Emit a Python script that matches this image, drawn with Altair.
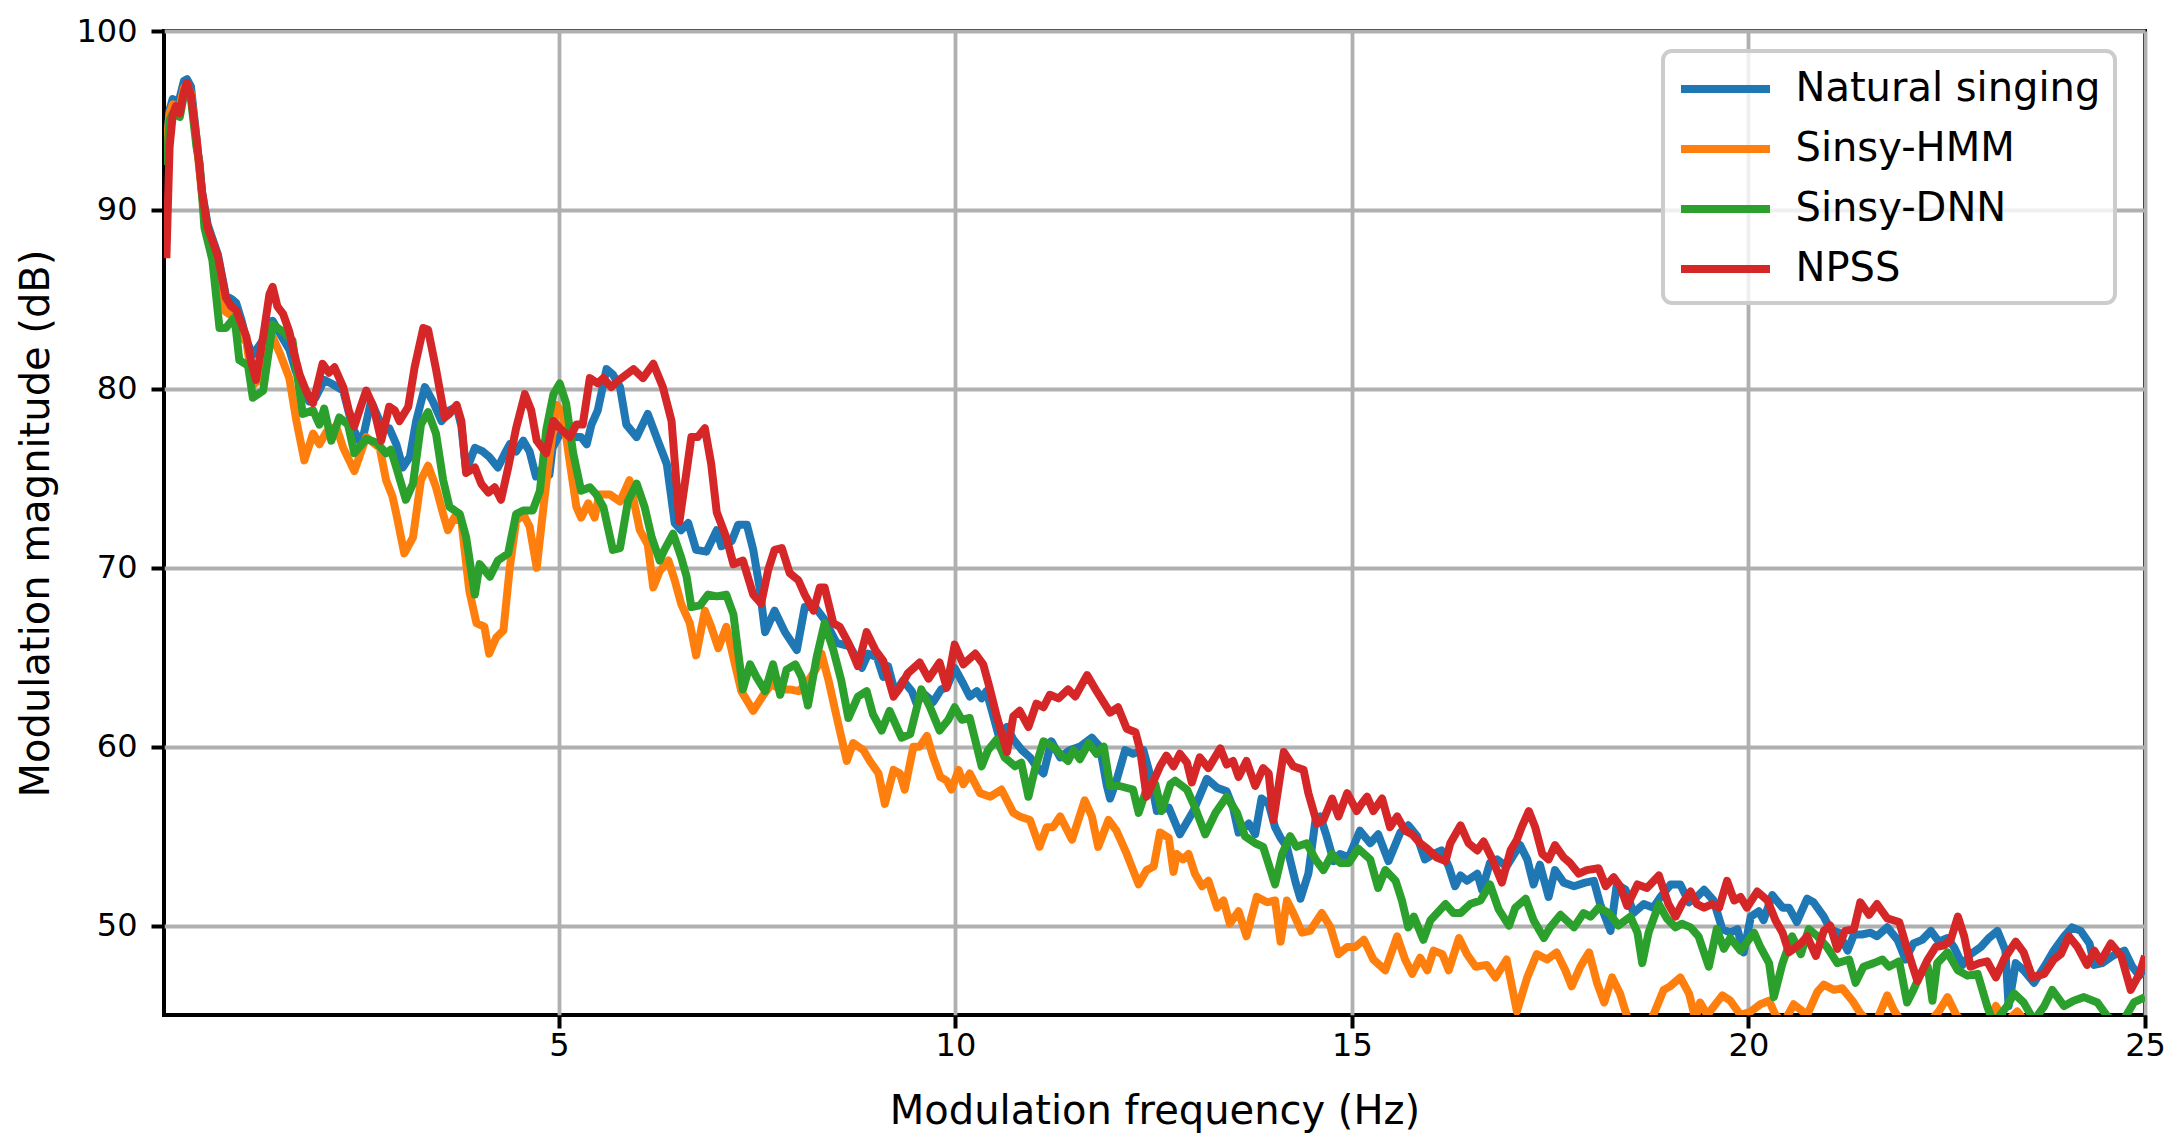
import altair as alt
import pandas as pd

series_names = ["Natural singing", "Sinsy-HMM", "Sinsy-DNN", "NPSS"]
series_colors = ["#1f77b4", "#ff7f0e", "#2ca02c", "#d62728"]
x_ticks = [5, 10, 15, 20, 25]
y_ticks = [50, 60, 70, 80, 90, 100]

# (frequency Hz, magnitude dB)
natural = [(0.05,93.5),(0.09,95.6),(0.13,96.2),(0.17,96.0),(0.22,96.3),(0.27,97.2),(0.31,97.3),(0.36,96.9),(0.43,94.0),(0.50,91.0),(0.57,89.2),(0.63,88.4),(0.70,87.5),(0.80,85.2),(0.88,85.0),(0.93,84.8),(1.00,83.8),(1.06,82.7),(1.14,81.9),(1.25,82.6),(1.39,83.8),(1.52,82.8),(1.60,82.2),(1.68,81.0),(1.85,79.3),(1.93,79.5),(2.04,80.5),(2.13,80.3),(2.28,79.9),(2.40,77.8),(2.51,76.9),(2.63,79.3),(2.78,77.8),(2.86,77.8),(2.95,76.9),(3.03,75.6),(3.12,76.2),(3.20,78.2),(3.31,80.1),(3.41,79.3),(3.52,78.2),(3.62,78.8),(3.71,79.0),(3.77,77.9),(3.83,75.4),(3.94,76.7),(4.04,76.5),(4.12,76.2),(4.23,75.6),(4.32,76.4),(4.38,76.9),(4.46,76.5),(4.55,77.1),(4.63,76.5),(4.71,75.1),(4.80,75.6),(4.88,75.2),(4.92,76.7),(4.99,77.3),(5.07,77.7),(5.18,77.3),(5.28,77.3),(5.35,76.9),(5.41,78.0),(5.49,78.8),(5.60,81.1),(5.68,80.8),(5.77,80.1),(5.85,78.0),(5.98,77.3),(6.12,78.6),(6.23,77.3),(6.36,75.8),(6.46,72.5),(6.54,72.1),(6.63,72.5),(6.73,71.0),(6.86,70.9),(6.99,72.1),(7.05,71.2),(7.18,71.5),(7.26,72.4),(7.37,72.4),(7.45,71.0),(7.53,68.9),(7.60,66.4),(7.72,67.6),(7.85,66.4),(8.00,65.4),(8.10,67.8),(8.23,67.8),(8.35,67.1),(8.50,65.8),(8.67,65.6),(8.82,64.4),(8.90,65.2),(9.01,65.0),(9.09,63.9),(9.15,64.5),(9.24,63.0),(9.34,63.7),(9.45,63.1),(9.51,62.4),(9.59,63.0),(9.72,62.5),(9.82,63.2),(9.89,63.3),(9.99,64.4),(10.10,63.5),(10.18,62.8),(10.27,63.1),(10.33,62.7),(10.39,63.1),(10.46,62.0),(10.54,60.7),(10.65,61.1),(10.73,60.4),(10.84,59.8),(10.94,59.4),(11.02,58.9),(11.11,58.5),(11.21,60.3),(11.32,59.4),(11.44,59.8),(11.57,60.0),(11.72,60.5),(11.82,60.0),(11.91,57.8),(11.95,57.1),(12.03,58.1),(12.14,59.8),(12.24,59.6),(12.37,59.8),(12.45,58.5),(12.54,56.4),(12.69,56.6),(12.83,55.1),(13.00,56.4),(13.17,58.2),(13.30,57.7),(13.42,57.5),(13.50,56.6),(13.57,55.2),(13.70,55.7),(13.78,55.1),(13.86,57.1),(13.95,56.8),(14.03,55.5),(14.10,54.9),(14.18,54.4),(14.29,52.4),(14.35,51.5),(14.45,52.9),(14.54,55.9),(14.60,56.1),(14.68,55.0),(14.77,53.6),(14.85,54.0),(14.96,53.8),(15.10,55.3),(15.23,54.6),(15.33,55.1),(15.46,53.6),(15.61,55.2),(15.71,55.6),(15.82,55.0),(15.92,53.7),(16.03,54.0),(16.13,54.2),(16.22,53.3),(16.30,52.2),(16.37,52.8),(16.45,52.5),(16.58,52.9),(16.64,52.0),(16.74,53.5),(16.83,53.7),(16.95,53.3),(17.06,54.1),(17.12,54.5),(17.21,53.7),(17.29,52.3),(17.37,53.4),(17.48,51.6),(17.56,53.1),(17.67,52.4),(17.80,52.2),(17.94,52.4),(18.05,52.5),(18.13,51.2),(18.26,49.7),(18.34,52.3),(18.45,52.0),(18.55,50.7),(18.68,51.2),(18.80,51.0),(18.89,51.6),(19.02,52.3),(19.14,52.3),(19.25,51.3),(19.35,51.6),(19.44,52.0),(19.56,51.4),(19.67,49.8),(19.77,49.6),(19.86,49.8),(19.94,48.5),(20.03,50.5),(20.13,50.8),(20.19,50.3),(20.30,51.7),(20.43,51.0),(20.51,51.0),(20.61,50.2),(20.74,51.5),(20.82,51.3),(20.95,50.5),(21.03,49.8),(21.14,49.6),(21.25,48.6),(21.33,49.5),(21.43,49.5),(21.54,49.6),(21.62,49.4),(21.75,49.9),(21.88,49.2),(21.98,48.1),(22.08,49.0),(22.19,49.2),(22.30,49.7),(22.40,49.1),(22.51,49.3),(22.59,48.8),(22.70,47.8),(22.80,48.4),(22.93,48.8),(23.03,49.3),(23.14,49.7),(23.24,48.6),(23.28,45.5),(23.37,47.9),(23.47,47.5),(23.60,46.8),(23.73,47.7),(23.85,48.6),(23.98,49.4),(24.08,49.9),(24.19,49.7),(24.30,49.0),(24.36,47.8),(24.46,47.9),(24.59,48.3),(24.74,48.6),(24.84,47.7),(24.93,47.2),(25.00,47.7)]

hmm = [(0.05,93.5),(0.09,95.4),(0.13,95.9),(0.17,95.8),(0.22,95.8),(0.27,96.8),(0.31,97.0),(0.36,96.5),(0.43,93.8),(0.50,90.8),(0.57,88.6),(0.63,87.6),(0.70,86.3),(0.80,84.3),(0.90,84.0),(0.98,83.0),(1.06,82.6),(1.14,80.2),(1.22,80.5),(1.39,82.9),(1.48,82.0),(1.60,80.6),(1.69,78.2),(1.79,76.0),(1.90,77.5),(1.98,76.9),(2.07,77.6),(2.19,77.9),(2.28,76.7),(2.42,75.4),(2.57,77.3),(2.74,76.7),(2.82,74.9),(2.90,74.0),(2.95,73.0),(3.05,70.8),(3.16,71.7),(3.26,74.9),(3.35,75.7),(3.45,74.5),(3.54,73.0),(3.60,72.1),(3.68,72.8),(3.77,72.6),(3.87,68.7),(3.96,66.9),(4.06,66.7),(4.12,65.2),(4.21,66.1),(4.30,66.5),(4.38,70.0),(4.46,72.6),(4.55,73.0),(4.63,72.3),(4.72,70.0),(4.80,73.2),(4.88,76.2),(4.97,79.1),(5.05,78.6),(5.14,75.8),(5.22,73.4),(5.28,72.8),(5.37,73.6),(5.45,72.8),(5.51,74.1),(5.64,74.1),(5.77,73.7),(5.89,74.9),(5.95,73.6),(6.02,72.1),(6.12,71.3),(6.19,68.9),(6.27,69.8),(6.38,70.4),(6.46,69.3),(6.54,68.0),(6.65,66.9),(6.73,65.1),(6.84,67.6),(6.92,66.7),(7.01,65.5),(7.11,66.7),(7.22,64.6),(7.30,63.1),(7.45,62.0),(7.58,62.9),(7.68,63.5),(7.79,63.2),(7.91,63.2),(8.02,63.1),(8.12,63.5),(8.25,64.4),(8.31,65.2),(8.40,63.7),(8.50,61.7),(8.63,59.2),(8.71,60.2),(8.84,59.8),(8.92,59.2),(9.03,58.5),(9.11,56.8),(9.22,58.7),(9.30,58.5),(9.36,57.6),(9.47,60.0),(9.55,60.0),(9.64,60.6),(9.72,59.4),(9.81,58.3),(9.89,58.1),(9.95,57.6),(10.04,58.7),(10.10,57.9),(10.18,58.5),(10.31,57.4),(10.44,57.2),(10.58,57.6),(10.73,56.3),(10.81,56.1),(10.94,55.9),(11.06,54.4),(11.15,55.5),(11.23,55.5),(11.32,56.1),(11.47,54.8),(11.63,57.0),(11.72,56.1),(11.80,54.4),(11.93,55.9),(12.03,55.3),(12.16,54.0),(12.31,52.3),(12.41,53.1),(12.50,53.3),(12.58,55.2),(12.69,54.9),(12.75,53.0),(12.79,54.0),(12.87,53.7),(12.94,54.0),(13.02,52.9),(13.11,52.2),(13.19,52.5),(13.30,51.0),(13.38,51.4),(13.46,50.1),(13.57,50.8),(13.67,49.4),(13.80,51.6),(13.93,51.3),(14.03,51.4),(14.10,49.1),(14.18,51.4),(14.26,50.7),(14.37,49.6),(14.47,49.7),(14.62,50.7),(14.73,49.9),(14.83,48.4),(14.94,48.8),(15.04,48.8),(15.15,49.2),(15.27,48.1),(15.42,47.5),(15.57,49.4),(15.67,48.1),(15.76,47.3),(15.86,48.2),(15.95,47.5),(16.03,48.6),(16.14,48.4),(16.22,47.5),(16.35,49.3),(16.45,48.4),(16.56,47.7),(16.70,47.8),(16.81,47.1),(16.95,48.1),(17.08,45.2),(17.21,47.1),(17.33,48.4),(17.46,48.1),(17.58,48.5),(17.69,47.5),(17.77,46.6),(17.88,47.7),(17.99,48.5),(18.09,46.8),(18.18,45.7),(18.28,47.1),(18.38,46.2),(18.47,44.9),(18.55,44.3),(18.68,44.2),(18.80,45.0),(18.93,46.4),(19.01,46.6),(19.14,47.1),(19.25,46.2),(19.33,44.8),(19.39,45.7),(19.48,45.0),(19.67,46.1),(19.77,45.8),(19.90,45.0),(20.03,45.2),(20.15,45.6),(20.26,45.8),(20.34,45.0),(20.45,44.6),(20.57,45.6),(20.74,45.0),(20.87,46.3),(20.95,46.7),(21.08,46.4),(21.18,46.5),(21.31,45.8),(21.41,45.1),(21.58,44.3),(21.75,46.1),(21.83,45.3),(21.96,44.4),(22.17,44.0),(22.40,45.2),(22.51,46.0),(22.62,45.0),(22.80,44.2),(23.00,44.5),(23.12,45.5),(23.25,44.6),(23.39,45.2),(23.55,44.3),(24.00,44.0),(24.50,43.8),(25.00,44.0)]

dnn = [(0.05,92.5),(0.09,95.0),(0.13,95.4),(0.17,95.3),(0.22,95.2),(0.27,96.4),(0.31,96.8),(0.36,96.2),(0.43,93.5),(0.47,92.6),(0.53,89.0),(0.63,87.2),(0.72,83.4),(0.80,83.4),(0.91,84.0),(0.97,81.6),(1.08,81.3),(1.14,79.5),(1.27,79.9),(1.39,83.6),(1.52,83.2),(1.64,82.7),(1.77,78.6),(1.90,78.8),(1.98,78.0),(2.04,78.9),(2.13,77.1),(2.23,78.4),(2.34,78.0),(2.42,76.4),(2.57,77.2),(2.70,77.0),(2.82,76.4),(2.88,76.6),(2.95,75.6),(3.07,73.8),(3.16,74.7),(3.26,78.0),(3.35,78.7),(3.45,77.5),(3.54,74.9),(3.62,73.4),(3.75,73.0),(3.83,71.7),(3.94,68.5),(4.00,70.2),(4.13,69.5),(4.23,70.4),(4.36,70.8),(4.46,73.0),(4.55,73.2),(4.67,73.2),(4.76,74.3),(4.84,77.7),(4.93,79.7),(5.01,80.3),(5.09,79.2),(5.18,76.4),(5.28,74.3),(5.39,74.5),(5.47,74.1),(5.56,73.4),(5.68,71.0),(5.77,71.1),(5.87,73.7),(5.98,74.7),(6.08,73.4),(6.17,71.7),(6.27,70.4),(6.33,71.0),(6.44,71.9),(6.54,70.6),(6.61,69.5),(6.67,67.8),(6.78,67.9),(6.88,68.5),(6.99,68.4),(7.11,68.5),(7.20,67.4),(7.32,63.2),(7.41,64.6),(7.49,63.9),(7.60,63.1),(7.70,64.6),(7.79,62.9),(7.87,64.3),(7.98,64.6),(8.06,63.9),(8.14,62.3),(8.25,65.0),(8.35,66.9),(8.46,65.4),(8.56,63.7),(8.65,61.6),(8.77,62.8),(8.88,63.1),(8.96,61.8),(9.07,60.9),(9.17,62.0),(9.32,60.5),(9.43,60.7),(9.57,63.2),(9.68,62.2),(9.80,60.9),(9.91,61.5),(9.99,62.2),(10.08,61.5),(10.18,61.6),(10.27,60.0),(10.33,58.9),(10.41,59.8),(10.52,60.4),(10.62,59.4),(10.75,58.9),(10.83,59.1),(10.92,57.2),(11.00,58.7),(11.11,60.3),(11.23,60.0),(11.34,59.5),(11.42,59.2),(11.49,59.8),(11.57,59.3),(11.68,60.2),(11.78,59.6),(11.87,60.0),(11.95,57.8),(12.07,57.8),(12.24,57.6),(12.31,56.3),(12.43,57.9),(12.52,57.9),(12.60,56.4),(12.71,57.9),(12.77,58.1),(12.92,57.6),(13.02,56.6),(13.15,55.1),(13.28,56.3),(13.42,57.2),(13.55,56.3),(13.65,55.0),(13.78,54.6),(13.88,54.4),(14.03,52.3),(14.12,54.0),(14.22,55.0),(14.30,54.4),(14.43,54.6),(14.54,53.7),(14.64,53.1),(14.75,54.0),(14.85,53.5),(14.96,53.5),(15.08,54.3),(15.23,53.7),(15.33,52.1),(15.42,53.1),(15.55,52.5),(15.63,51.4),(15.71,49.9),(15.78,50.5),(15.90,49.2),(15.99,50.3),(16.18,51.2),(16.28,50.7),(16.37,50.7),(16.49,51.2),(16.62,51.4),(16.74,52.3),(16.85,50.9),(16.98,50.0),(17.06,51.0),(17.19,51.5),(17.29,50.3),(17.42,49.3),(17.50,49.9),(17.63,50.6),(17.80,49.9),(17.92,50.7),(18.01,50.5),(18.11,51.0),(18.24,50.7),(18.36,50.0),(18.51,50.5),(18.60,49.6),(18.66,47.9),(18.74,49.6),(18.87,51.2),(18.97,50.4),(19.08,49.9),(19.16,50.1),(19.27,49.9),(19.37,49.4),(19.50,47.7),(19.60,49.8),(19.69,48.7),(19.77,49.3),(19.90,48.6),(20.07,49.6),(20.15,48.8),(20.26,47.9),(20.32,46.0),(20.43,47.9),(20.55,49.4),(20.66,48.4),(20.76,49.8),(20.87,49.4),(20.99,48.8),(21.12,47.9),(21.27,48.1),(21.35,46.8),(21.45,47.7),(21.58,47.9),(21.69,48.1),(21.77,47.7),(21.90,48.0),(22.00,45.7),(22.08,46.4),(22.17,47.3),(22.26,47.7),(22.32,45.8),(22.38,47.9),(22.51,48.5),(22.64,47.5),(22.76,47.2),(22.89,47.3),(23.01,45.5),(23.09,44.5),(23.26,45.5),(23.35,46.2),(23.47,45.7),(23.60,44.7),(23.73,45.5),(23.83,46.4),(23.98,45.5),(24.10,45.8),(24.23,46.0),(24.40,45.7),(24.53,44.9),(24.70,44.5),(24.86,45.7),(25.00,46.0)]

npss = [(0.05,87.3),(0.09,93.5),(0.13,95.3),(0.17,95.8),(0.22,95.4),(0.27,96.6),(0.31,97.1),(0.36,96.4),(0.43,94.0),(0.50,91.0),(0.57,89.0),(0.63,88.3),(0.70,87.4),(0.80,85.1),(0.87,84.6),(0.93,84.4),(1.00,83.6),(1.06,82.9),(1.12,81.5),(1.18,80.5),(1.28,83.2),(1.35,85.3),(1.39,85.7),(1.45,84.6),(1.52,84.2),(1.60,83.2),(1.66,82.0),(1.73,80.8),(1.82,79.8),(1.90,79.2),(1.96,80.3),(2.02,81.4),(2.10,80.9),(2.17,81.2),(2.28,80.1),(2.35,78.8),(2.42,77.9),(2.50,79.0),(2.57,79.9),(2.66,79.0),(2.76,77.1),(2.86,79.0),(2.93,78.8),(2.99,78.2),(3.10,79.0),(3.18,81.2),(3.29,83.4),(3.35,83.3),(3.45,81.1),(3.56,78.4),(3.62,78.6),(3.71,79.1),(3.77,78.2),(3.83,75.3),(3.94,75.6),(4.02,74.7),(4.11,74.2),(4.19,74.5),(4.27,73.8),(4.36,75.6),(4.46,77.8),(4.57,79.7),(4.65,78.8),(4.72,77.1),(4.84,76.4),(4.93,78.2),(5.01,77.8),(5.14,77.3),(5.22,78.0),(5.30,78.0),(5.39,80.6),(5.49,80.3),(5.56,80.6),(5.66,80.1),(5.76,80.5),(5.94,81.1),(6.06,80.6),(6.19,81.4),(6.31,80.1),(6.42,78.2),(6.52,72.6),(6.61,75.4),(6.67,77.3),(6.75,77.3),(6.84,77.8),(6.92,75.8),(6.99,73.1),(7.11,71.7),(7.20,70.2),(7.32,70.4),(7.45,68.5),(7.55,68.0),(7.64,69.9),(7.72,71.0),(7.81,71.1),(7.91,69.7),(8.02,69.3),(8.10,68.5),(8.21,67.6),(8.29,68.9),(8.35,68.9),(8.46,66.9),(8.54,66.7),(8.65,65.8),(8.77,64.5),(8.88,66.4),(8.99,65.4),(9.09,64.8),(9.22,62.8),(9.30,63.3),(9.40,64.1),(9.55,64.7),(9.66,63.8),(9.80,64.7),(9.89,63.3),(9.99,65.7),(10.10,64.6),(10.25,65.2),(10.35,64.6),(10.43,63.3),(10.52,61.7),(10.65,59.7),(10.73,61.7),(10.81,62.0),(10.92,61.1),(11.02,62.4),(11.11,62.2),(11.19,62.9),(11.30,62.7),(11.42,63.2),(11.51,62.8),(11.66,64.0),(11.78,63.1),(11.95,61.9),(12.05,62.2),(12.16,61.0),(12.27,60.8),(12.33,59.8),(12.41,57.2),(12.50,58.1),(12.58,58.9),(12.66,59.5),(12.75,58.9),(12.83,59.6),(12.92,59.1),(12.98,58.0),(13.08,59.4),(13.19,58.8),(13.34,59.9),(13.42,59.0),(13.50,59.2),(13.57,58.3),(13.67,59.2),(13.78,57.8),(13.88,58.8),(13.95,58.5),(14.01,55.9),(14.14,59.7),(14.26,58.9),(14.39,58.7),(14.45,57.4),(14.56,55.7),(14.64,55.9),(14.75,57.1),(14.83,56.1),(14.94,57.4),(15.06,56.4),(15.12,56.8),(15.19,57.2),(15.27,56.4),(15.38,57.1),(15.48,55.5),(15.57,56.1),(15.67,55.3),(15.76,55.1),(15.86,54.6),(15.95,54.3),(16.07,53.8),(16.18,53.6),(16.24,54.6),(16.37,55.6),(16.47,54.6),(16.58,54.2),(16.66,54.7),(16.77,53.7),(16.89,52.4),(17.00,54.2),(17.08,54.8),(17.14,55.5),(17.23,56.4),(17.31,55.5),(17.40,54.0),(17.48,53.7),(17.56,54.5),(17.67,53.8),(17.75,53.5),(17.86,52.9),(17.96,53.1),(18.11,53.2),(18.20,52.2),(18.30,52.7),(18.38,52.2),(18.47,51.1),(18.60,52.3),(18.72,52.1),(18.87,52.8),(18.99,51.2),(19.08,50.5),(19.16,51.2),(19.27,51.9),(19.35,51.2),(19.44,51.0),(19.54,51.2),(19.63,51.0),(19.73,52.5),(19.82,51.4),(19.90,51.6),(19.98,51.0),(20.11,51.9),(20.24,51.4),(20.34,50.3),(20.43,49.6),(20.51,48.5),(20.66,49.0),(20.74,49.4),(20.85,48.3),(20.95,49.7),(21.03,50.0),(21.12,48.7),(21.22,49.7),(21.33,49.8),(21.41,51.3),(21.52,50.6),(21.62,51.2),(21.75,50.4),(21.90,50.2),(22.00,48.7),(22.13,46.9),(22.26,48.1),(22.36,48.8),(22.47,48.9),(22.55,49.2),(22.64,50.5),(22.72,49.4),(22.80,47.7),(22.91,47.9),(23.01,48.0),(23.12,47.1),(23.22,48.1),(23.37,49.1),(23.47,48.5),(23.58,47.1),(23.73,47.3),(23.85,48.1),(23.94,48.4),(24.04,49.4),(24.15,48.8),(24.27,47.8),(24.36,48.6),(24.44,48.0),(24.57,49.0),(24.70,48.3),(24.82,46.4),(24.93,47.3),(25.00,48.3)]

series_points = [natural, hmm, dnn, npss]

rows = []
for name, pts in zip(series_names, series_points):
    for i, (f, v) in enumerate(pts):
        rows.append({"series": name, "freq": f, "db": v, "idx": i})
df = pd.DataFrame(rows)

FONT = "DejaVu Sans"

x_enc = alt.X(
    "freq:Q",
    scale=alt.Scale(domain=[0.02, 25], nice=False, zero=False),
    axis=alt.Axis(values=x_ticks, title="Modulation frequency (Hz)", labelPadding=2,
                  titlePadding=30, labelFlush=False),
)
y_enc = alt.Y(
    "db:Q",
    scale=alt.Scale(domain=[45, 100], nice=False, zero=False),
    axis=alt.Axis(values=y_ticks, title="Modulation magnitude (dB)", labelPadding=14,
                  titlePadding=19, labelFlush=False),
)
color_enc = alt.Color(
    "series:N",
    scale=alt.Scale(domain=series_names, range=series_colors),
    legend=alt.Legend(
        title=None, orient="none", legendX=1499, legendY=20,
        symbolType="M-2.225,0H2.225", symbolSize=1600, symbolStrokeWidth=8,
        symbolOffset=24.5,
        labelFontSize=40, labelFont=FONT, labelColor="black", labelOffset=46,
        rowPadding=16, padding=14, cornerRadius=9, strokeColor="#cccccc",
        fillColor="rgba(255,255,255,0.8)", labelLimit=1000,
    ),
)

layers = []
for name in series_names:
    layers.append(
        alt.Chart(df)
        .transform_filter(alt.datum.series == name)
        .mark_line(clip=True, strokeWidth=8, strokeJoin="round")
        .encode(x=x_enc, y=y_enc, color=color_enc, order="idx:Q")
    )

chart = (
    alt.layer(*layers)
    .properties(
        width=1981, height=984,
        padding={"left": 156, "top": 23, "right": 21, "bottom": 118},
        autosize=alt.AutoSizeParams(type="none"),
    )
    .configure(font=FONT)
    .configure_view(stroke="black", strokeWidth=4)
    .configure_axis(
        domain=False, grid=True, gridColor="#b0b0b0", gridWidth=3.8,
        tickColor="black", tickSize=13, tickWidth=4,
        labelFont=FONT, labelFontSize=32, labelColor="black",
        titleFont=FONT, titleFontSize=40, titleFontWeight="normal", titleColor="black",
    )
    .configure_legend(strokeWidth=4)
)

chart.save("out.html", embed_options={"renderer": "svg", "actions": False})
